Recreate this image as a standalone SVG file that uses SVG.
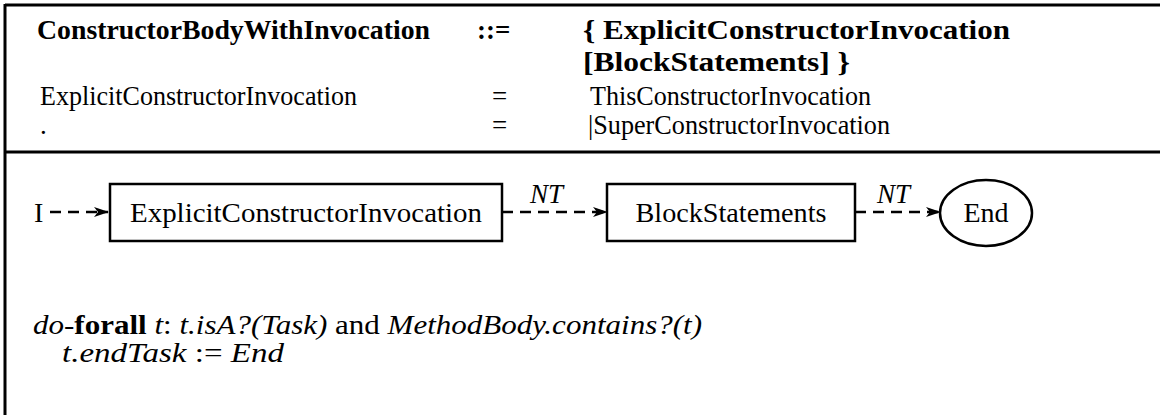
<svg xmlns="http://www.w3.org/2000/svg" width="1160" height="415" viewBox="0 0 1160 415">
<defs>
<style>
.b{font-weight:bold;font-size:27px}
.n{font-size:27px}
.m{font-size:28px}
.it{font-style:italic}
.frame{stroke:#000;stroke-width:3;fill:none}
.node{stroke:#000;stroke-width:2.5;fill:#fff}
.edge{stroke:#000;stroke-width:2.5;fill:none;stroke-dasharray:11 7}
</style>
<marker id="ah" markerWidth="16" markerHeight="12" refX="14" refY="6" orient="auto" markerUnits="userSpaceOnUse">
<path d="M0,1 L15,6 L0,11 L4,6 Z" fill="#000"/>
</marker>
</defs>
<rect width="1160" height="415" fill="#fff"/>
<g id="frame">
<line class="frame" x1="5" y1="5" x2="1160" y2="5"/>
<line class="frame" x1="5" y1="4" x2="5" y2="415"/>
<line class="frame" x1="5" y1="152" x2="1160" y2="152"/>
</g>
<g font-family="'Liberation Serif', 'DejaVu Serif', serif" fill="#000">
<g id="grammar">
<text class="b" x="37" y="39" textLength="393" lengthAdjust="spacingAndGlyphs">ConstructorBodyWithInvocation</text>
<text class="b" x="477" y="39">::=</text>
<text class="b" x="583" y="39" textLength="427" lengthAdjust="spacingAndGlyphs">{ ExplicitConstructorInvocation</text>
<text class="b" x="583" y="71" textLength="267" lengthAdjust="spacingAndGlyphs">[BlockStatements] }</text>
<text class="n" x="40" y="105" textLength="317" lengthAdjust="spacingAndGlyphs">ExplicitConstructorInvocation</text>
<text class="n" x="492" y="105">=</text>
<text class="n" x="590" y="105" textLength="281" lengthAdjust="spacingAndGlyphs">ThisConstructorInvocation</text>
<text class="n" x="40" y="134">.</text>
<text class="n" x="492" y="134">=</text>
<text class="n" x="588" y="134" textLength="302" lengthAdjust="spacingAndGlyphs">|SuperConstructorInvocation</text>
</g>
<g id="connectors">
<line class="edge" x1="50" y1="212" x2="108" y2="212" marker-end="url(#ah)"/>
<line class="edge" x1="502" y1="212" x2="607" y2="212" marker-end="url(#ah)"/>
<line class="edge" x1="855" y1="212" x2="940" y2="212" marker-end="url(#ah)"/>
<text class="n it" x="530" y="203">NT</text>
<text class="n it" x="877" y="203">NT</text>
</g>
<g id="start">
<text class="m" x="34" y="222">I</text>
</g>
<g id="n1">
<rect class="node" x="110" y="184" width="392" height="57"/>
<text class="m" x="306" y="222" text-anchor="middle" textLength="352" lengthAdjust="spacingAndGlyphs">ExplicitConstructorInvocation</text>
</g>
<g id="n2">
<rect class="node" x="607" y="184" width="248" height="57"/>
<text class="m" x="731" y="222" text-anchor="middle" textLength="191" lengthAdjust="spacingAndGlyphs">BlockStatements</text>
</g>
<g id="end">
<ellipse class="node" cx="986" cy="213" rx="46" ry="33"/>
<text class="m" x="986" y="222" text-anchor="middle">End</text>
</g>
<g id="code">
<text class="n" x="33" y="334" textLength="669" lengthAdjust="spacingAndGlyphs"><tspan class="it">do</tspan>-<tspan font-weight="bold">forall</tspan> <tspan class="it">t</tspan>: <tspan class="it">t.isA?(Task)</tspan> and <tspan class="it">MethodBody.contains?(t)</tspan></text>
<text class="n" x="62" y="362" textLength="222" lengthAdjust="spacingAndGlyphs"><tspan class="it">t.endTask</tspan> := <tspan class="it">End</tspan></text>
</g>
</g>
</svg>
